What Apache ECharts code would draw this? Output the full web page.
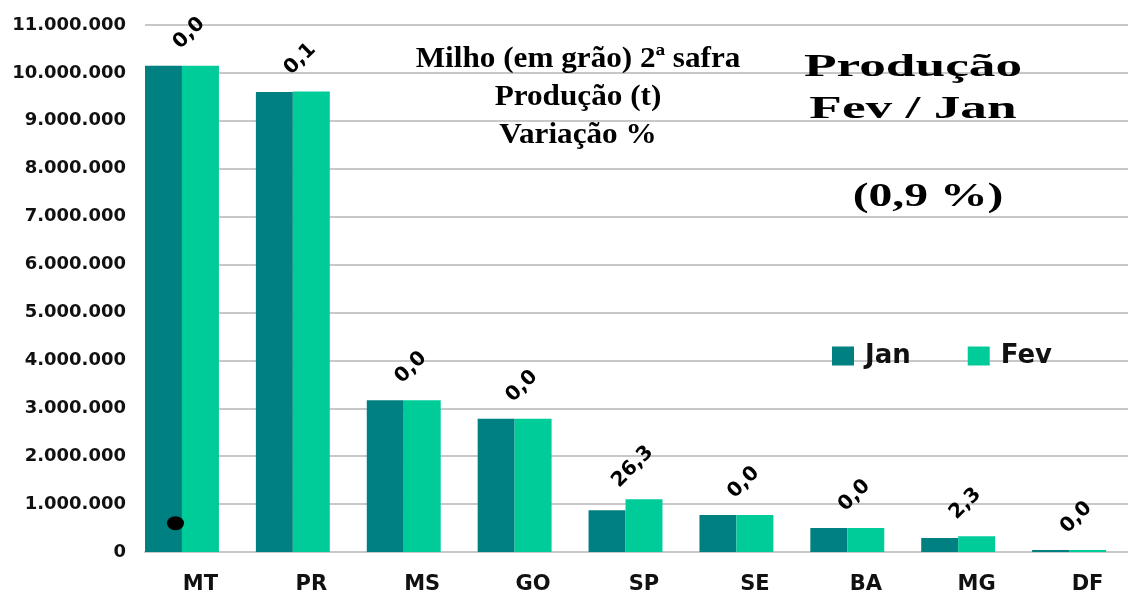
<!DOCTYPE html>
<html>
<head>
<meta charset="utf-8">
<title>Milho 2ª safra - Produção Fev / Jan</title>
<script src="https://cdn.jsdelivr.net/npm/echarts@6/dist/echarts.min.js"></script>
<style>
  html, body { margin: 0; padding: 0; background: #fff; }
  #chart { width: 1128px; height: 591px; }
</style>
</head>
<body>
<div id="chart"></div>
<script>
// dados (t)
const estados = ['MT', 'PR', 'MS', 'GO', 'SP', 'SE', 'BA', 'MG', 'DF']
const producaoJan = [10150000, 9600000, 3170000, 2780000, 870000, 770000, 500000, 290000, 40000]
const producaoFev = [10150000, 9610000, 3170000, 2780000, 1100000, 770000, 500000, 330000, 40000]
const variacao = ['0,0', '0,1', '0,0', '0,0', '26,3', '0,0', '0,0', '2,3', '0,0']
const yTicks = [0, 11000000, 1000000] // min, max, intervalo
// serie vazia so para empurrar as barras para a esquerda da categoria (como no original)
const vazio = estados.map(() => '-')

const chart = echarts.init(document.getElementById('chart'))

const formatNum = (v) => String(v).replace(/\B(?=(\d{3})+(?!\d))/g, '.')

chart.setOption({
  animation: false,
  grid: {
    left: 145,
    right: -15,
    top: 25,
    bottom: 39,
    outerBoundsMode: 'none'
  },
  legend: {
    data: ['Jan', 'Fev'],
    left: 832,
    top: 343,
    padding: 0,
    icon: 'rect',
    itemWidth: 22,
    itemHeight: 19,
    itemGap: 57,
    textStyle: {
      fontFamily: 'DejaVu Sans',
      fontWeight: 'bold',
      fontSize: 26,
      color: '#111',
      padding: [0, 0, 0, 6]
    }
  },
  xAxis: {
    type: 'category',
    data: estados,
    axisTick: { show: false },
    axisLine: { lineStyle: { color: '#c8c8c8', width: 2 } },
    axisLabel: {
      margin: 22,
      fontFamily: 'DejaVu Sans',
      fontWeight: 'bold',
      fontSize: 21,
      color: '#111'
    }
  },
  yAxis: {
    type: 'value',
    min: yTicks[0],
    max: yTicks[1],
    interval: yTicks[2],
    axisLine: { show: false },
    axisTick: { show: false },
    splitLine: { lineStyle: { color: '#c8c8c8', width: 2 } },
    axisLabel: {
      margin: 19,
      fontFamily: 'DejaVu Sans',
      fontWeight: 'bold',
      fontSize: 18,
      color: '#111',
      formatter: formatNum
    }
  },
  series: [
    {
      name: 'Jan',
      type: 'bar',
      data: producaoJan,
      barGap: '0%',
      barCategoryGap: '0%',
      itemStyle: { color: '#008080' },
      markPoint: {
        symbol: 'circle',
        symbolSize: [17, 14],
        symbolOffset: [12, 0],
        itemStyle: { color: '#000' },
        label: { show: false },
        data: [{ coord: ['MT', 600000] }]
      }
    },
    {
      name: 'Fev',
      type: 'bar',
      data: producaoFev,
      barGap: '0%',
      barCategoryGap: '0%',
      itemStyle: { color: '#00CC99' },
      label: {
        show: true,
        position: 'top',
        distance: 0,
        rotate: 45,
        align: 'center',
        verticalAlign: 'middle',
        offset: [15, -31],
        fontFamily: 'DejaVu Sans',
        fontWeight: 'bold',
        fontSize: 20,
        color: '#000',
        formatter: (p) => variacao[p.dataIndex]
      }
    },
    {
      name: 'vazio',
      type: 'bar',
      data: vazio,
      barGap: '0%',
      barCategoryGap: '0%',
      silent: true
    }
  ],
  graphic: [
    {
      type: 'text',
      x: 578,
      y: 97,
      z: 10,
      scaleX: 1.04,
      style: {
        text: 'Milho (em grão) 2ª safra\nProdução (t)\nVariação %',
        font: 'bold 30px "Liberation Serif", "Times New Roman", serif',
        lineHeight: 38,
        fill: '#000',
        textAlign: 'center',
        textVerticalAlign: 'middle',
        align: 'center',
        verticalAlign: 'middle'
      }
    },
    {
      type: 'text',
      x: 913,
      y: 89,
      z: 10,
      scaleX: 1.72,
      style: {
        text: 'Produção\nFev / Jan',
        font: 'bold 31px "Liberation Serif", "Times New Roman", serif',
        lineHeight: 42,
        fill: '#000',
        textAlign: 'center',
        textVerticalAlign: 'middle',
        align: 'center',
        verticalAlign: 'middle'
      }
    },
    {
      type: 'text',
      x: 928,
      y: 197,
      z: 10,
      scaleX: 1.4,
      style: {
        text: '(0,9 %)',
        font: 'bold 34px "Liberation Serif", "Times New Roman", serif',
        fill: '#000',
        textAlign: 'center',
        textVerticalAlign: 'middle',
        align: 'center',
        verticalAlign: 'middle'
      }
    }
  ]
})
</script>
</body>
</html>
